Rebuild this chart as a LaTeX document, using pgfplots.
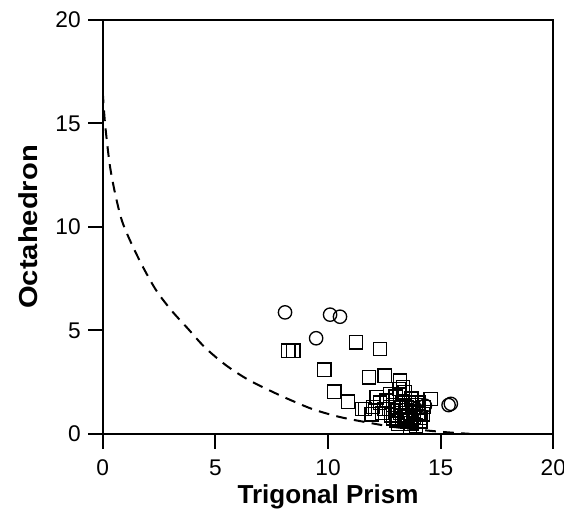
\documentclass[border=0pt]{standalone}
\usepackage{fontspec}
\setmainfont{Liberation Sans}
\usepackage{pgfplots}
\pgfplotsset{compat=1.18}

\begin{document}
\begin{tikzpicture}
\begin{axis}[
    scale only axis,
    width=337.5pt, height=310pt,
    xmin=0, xmax=20, ymin=0, ymax=20,
    xtick={0,5,...,20}, ytick={0,5,...,20},
    tick align=outside, tick pos=left,
    major tick length=11pt,
    every tick/.style={black, line width=1.5pt},
    axis line style={line width=1.5pt},
    tick label style={font=\fontsize{17}{19}\selectfont},
    xticklabel style={yshift=-5pt},
    yticklabel style={xshift=-2pt},
    /pgf/number format/assume math mode=true,
    xlabel={Trigonal Prism}, ylabel={Octahedron},
    label style={font=\fontsize{19.5}{22}\selectfont\bfseries},
    xlabel style={at={(axis description cs:0.5,-0.152)}, anchor=center},
    ylabel style={at={(axis description cs:-0.165,0.5)}, anchor=center, xscale=1.12},
]
% boundary curve
\addplot[black, line width=1.5pt, dash pattern=on 8pt off 5.5pt, smooth] coordinates {
    (0,16.5) (0.1,15) (0.31,13.0) (0.55,11.6) (0.85,10.3) (1.27,9.2) (1.79,8.05)
    (2.38,6.92) (3.05,5.96) (3.79,5.07) (4.53,4.18) (5.45,3.33) (6.4,2.65)
    (7.4,2.1) (8.3,1.65) (9.35,1.18) (10.5,0.82) (11.6,0.58) (13,0.32)
    (15,0.1) (16.3,0)
};
% squares
\addplot[only marks, mark=square, mark size=5pt, mark options={line width=1pt, black}] coordinates {
    (8.24,4.02) (8.46,4.02) (11.24,4.42) (12.31,4.1) (9.84,3.1) (11.82,2.73)
    (12.52,2.81) (13.2,2.57) (10.28,2.03) (10.88,1.55) (11.5,1.2) (14.56,1.68)
    (12.16,1.76) (12.76,1.92) (13.15,2.16) (13.33,2.24) (11.64,1.2) (11.94,0.95)
    (14.09,0.79) (13.64,0.3) (13.04,0.63) (14.24,1.29) (13.8,1.11)
    (12.0,1.3) (12.3,1.5) (12.5,1.2) (12.6,1.6) (12.9,1.4) (13.0,1.8) (13.2,1.0)
    (13.3,1.5) (13.4,0.8) (13.5,1.3) (13.5,0.6) (13.6,1.0) (13.7,1.7) (13.7,0.5)
    (13.8,0.8) (13.9,1.4) (14.0,1.0) (14.1,0.6) (13.1,0.5) (12.8,0.9) (12.7,1.2)
    (13.2,1.9) (13.4,2.0) (13.0,1.1) (13.3,0.7) (13.6,1.5) (13.9,0.4) (14.2,0.95)
    (12.4,1.0) (12.9,0.75) (13.45,1.15) (13.55,0.9) (13.75,1.25) (13.25,1.3)
    (13.65,0.7) (14.0,1.5)
};
% circles
\addplot[only marks, mark=o, mark size=5pt, mark options={line width=1pt, black}] coordinates {
    (8.09,5.87) (10.09,5.76) (10.53,5.66) (9.47,4.62) (15.35,1.39) (15.45,1.45)
    (14.3,1.36) (13.9,1.2)
};
\end{axis}
\pgfresetboundingbox
\path (current axis.south west) ++(-77pt,-59pt);
\path (current axis.north east) ++(8pt,15pt);
\end{tikzpicture}
\end{document}
